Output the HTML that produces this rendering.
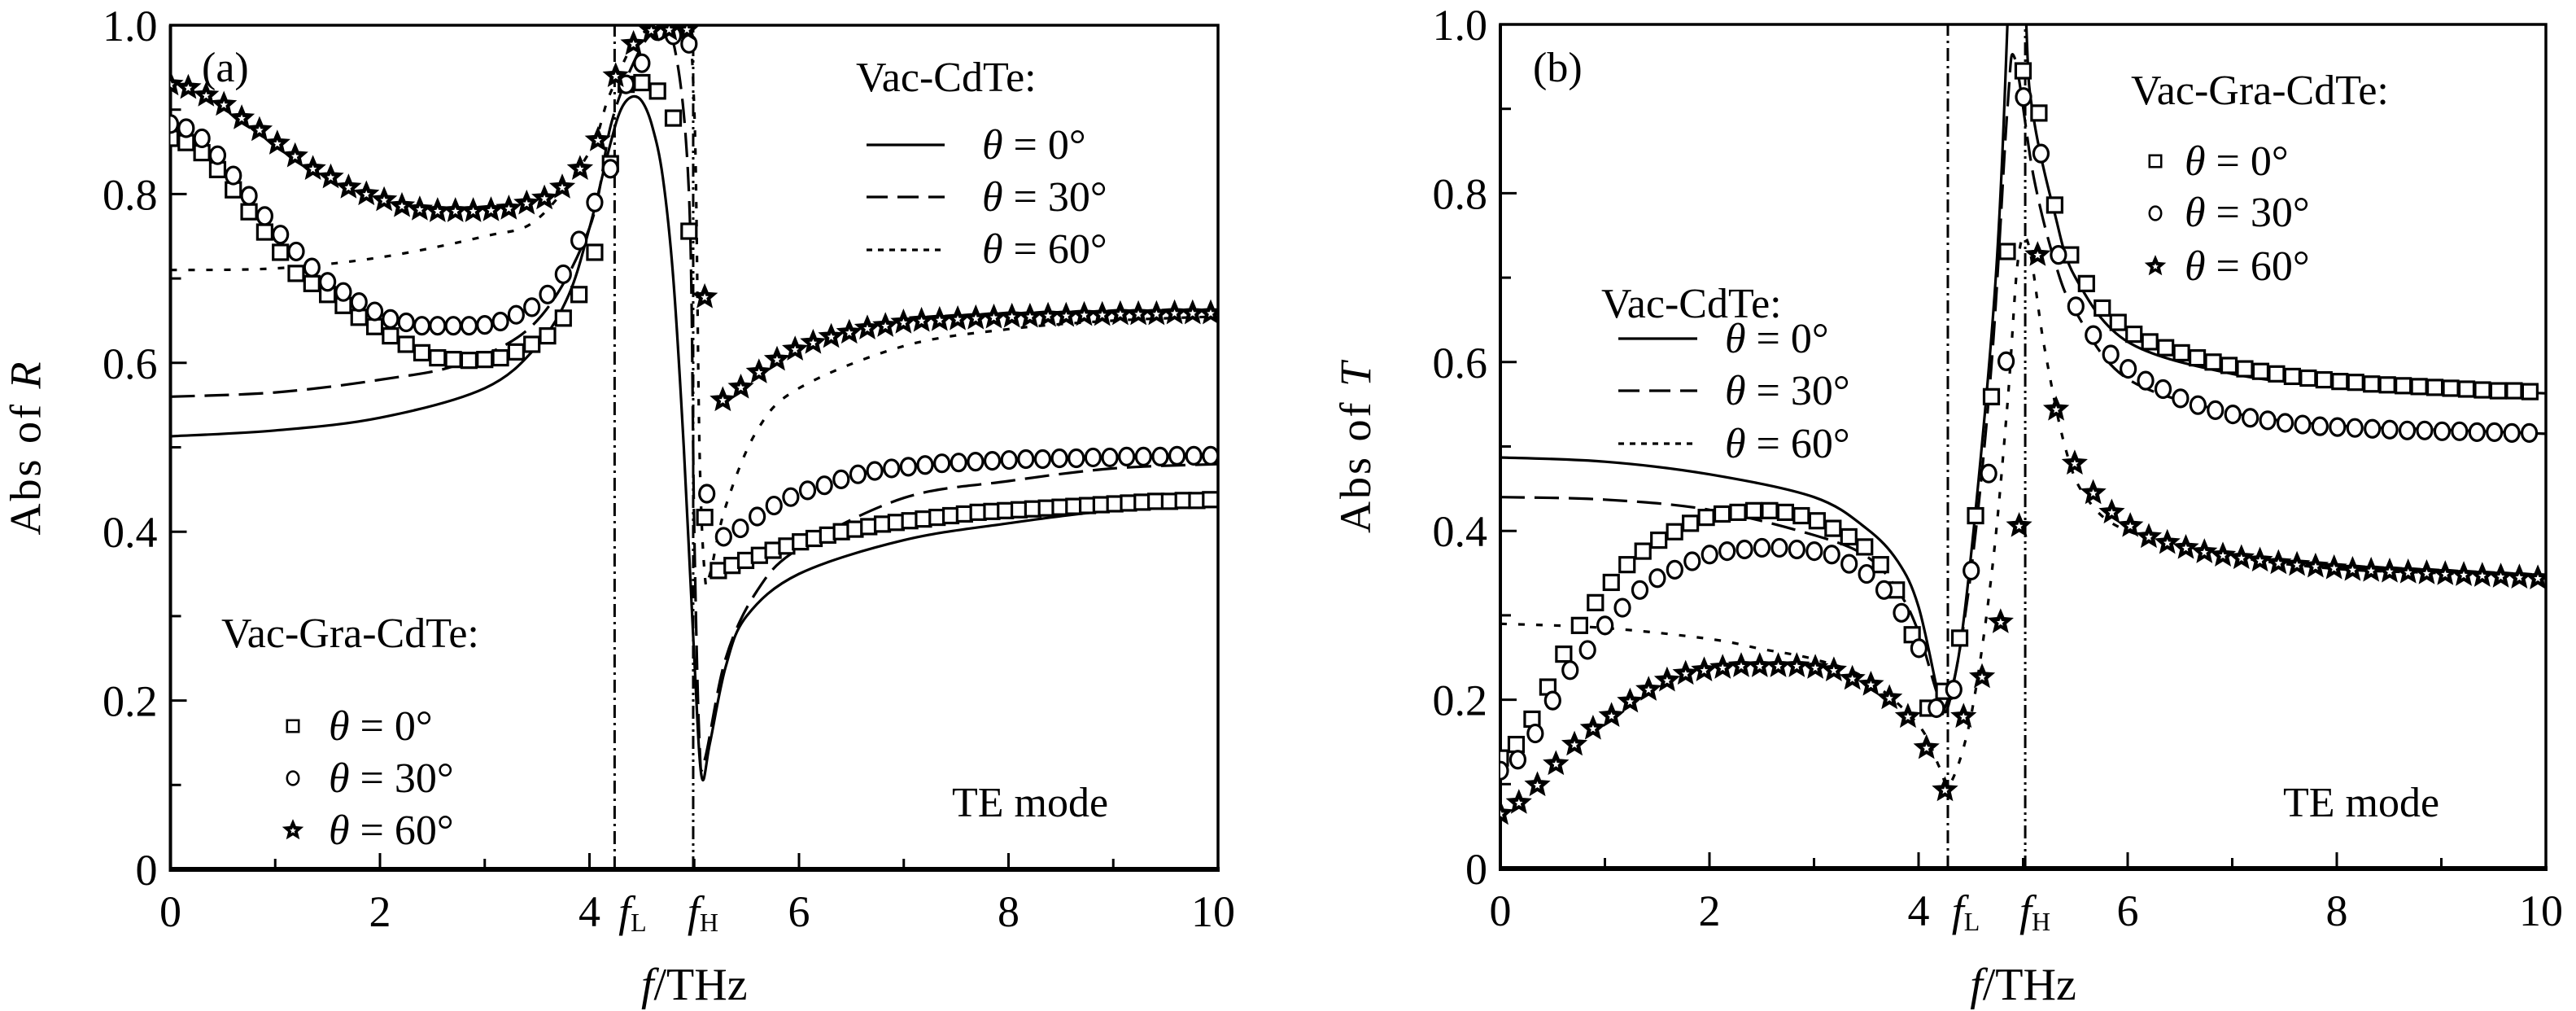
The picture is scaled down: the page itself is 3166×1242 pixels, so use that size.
<!DOCTYPE html>
<html><head><meta charset="utf-8"><style>
html,body{margin:0;padding:0;background:#fff;}
svg{display:block;}
svg text{font-family:"Liberation Serif","DejaVu Serif",serif;}
</style></head><body>
<svg id="fig" width="3166" height="1242" viewBox="0 0 3166 1242" xmlns="http://www.w3.org/2000/svg" font-family="Liberation Serif, DejaVu Serif, serif">
<rect width="3166" height="1242" fill="#fff"/>
</svg>
<script>
// ---------- Panel (a) data: reflectance R ----------
const aSolidF=[0,1,2,3,3.5,3.8,4.0,4.2,4.3,4.4,4.5,4.6,4.7,4.8,4.9,5.0,5.07,5.15,5.3,5.5,6,7,8,9,10];
const aSolidV=[0.513,0.52,0.535,0.57,0.62,0.68,0.76,0.86,0.90,0.915,0.91,0.88,0.82,0.70,0.50,0.25,0.11,0.15,0.24,0.30,0.35,0.39,0.41,0.425,0.43];
const aDashF=[0,1,2,2.8,3.5,4.0,4.2,4.4,4.6,4.8,4.95,5.0,5.05,5.1,5.3,5.6,6,7,8,9,10];
const aDashV=[0.56,0.565,0.58,0.60,0.65,0.76,0.88,0.95,0.99,0.98,0.80,0.40,0.15,0.13,0.25,0.33,0.38,0.44,0.46,0.475,0.48];
const aDotF=[0,1,2,3,3.5,4.0,4.2,4.5,4.9,5.0,5.05,5.1,5.15,5.3,5.6,6,7,8,9,10];
const aDotV=[0.71,0.712,0.725,0.75,0.77,0.85,0.92,0.99,0.99,0.90,0.50,0.35,0.35,0.43,0.52,0.57,0.62,0.64,0.65,0.655];
const aSqL=[0.866,0.861,0.849,0.829,0.805,0.779,0.755,0.731,0.706,0.694,0.681,0.668,0.654,0.643,0.632,0.622,0.612,0.606,0.604,0.603,0.604,0.606,0.613,0.622,0.632,0.653,0.681,0.731,0.836,0.93,0.932,0.922,0.89,0.756];
const aSqR=[0.417,0.354,0.36,0.366,0.372,0.378,0.383,0.388,0.392,0.396,0.400,0.403,0.406,0.409,0.411,0.413,0.415,0.417,0.419,0.421,0.423,0.424,0.425,0.426,0.427,0.428,0.429,0.430,0.431,0.432,0.433,0.434,0.435,0.436,0.436,0.437,0.437,0.438];
const aCiL=[0.883,0.878,0.866,0.846,0.822,0.798,0.774,0.752,0.732,0.713,0.696,0.684,0.672,0.661,0.652,0.648,0.644,0.644,0.644,0.644,0.645,0.649,0.657,0.666,0.681,0.705,0.745,0.79,0.83,0.93,0.955,0.993,0.988,0.978];
const aCiR=[0.445,0.394,0.404,0.418,0.431,0.441,0.449,0.455,0.462,0.468,0.472,0.475,0.477,0.479,0.481,0.482,0.483,0.484,0.485,0.486,0.486,0.487,0.487,0.488,0.488,0.489,0.489,0.489,0.49,0.49,0.49];
const aStL=[0.93,0.926,0.917,0.906,0.89,0.876,0.86,0.845,0.83,0.82,0.808,0.80,0.793,0.786,0.782,0.78,0.78,0.78,0.781,0.783,0.789,0.795,0.808,0.83,0.864,0.94,0.978,0.994,0.995,0.995];
const aStR=[0.678,0.556,0.571,0.589,0.604,0.616,0.624,0.631,0.636,0.641,0.644,0.648,0.650,0.651,0.652,0.653,0.654,0.655,0.655,0.656,0.656,0.657,0.657,0.658,0.658,0.658,0.659,0.659,0.659];
// ---------- Panel (b) data: transmittance T ----------
const bSolidF=[0,1,2,3,3.5,3.8,4.0,4.2,4.25,4.4,4.6,4.75,4.85,4.95,5.03,5.1,5.3,5.5,6,7,8,9,10];
const bSolidV=[0.487,0.482,0.467,0.44,0.403,0.364,0.31,0.2,0.19,0.265,0.494,0.723,1.0,1.4,1.0,0.89,0.777,0.70,0.624,0.586,0.572,0.567,0.563];
const bDashF=[0,1,2,3,3.5,3.8,4.0,4.2,4.3,4.5,4.7,4.85,4.92,5.1,5.3,5.5,6,7,8,9,10];
const bDashV=[0.44,0.437,0.425,0.395,0.37,0.33,0.28,0.2,0.2,0.35,0.6,0.9,0.96,0.82,0.72,0.66,0.58,0.54,0.525,0.52,0.515];
const bDotF=[0,1,2,2.5,3,3.5,4.0,4.2,4.3,4.5,4.7,4.85,4.95,5.05,5.2,5.4,5.6,6,7,8,9,10];
const bDotV=[0.29,0.285,0.272,0.26,0.248,0.225,0.17,0.12,0.10,0.18,0.35,0.55,0.72,0.74,0.62,0.50,0.44,0.40,0.37,0.355,0.35,0.345];
const bSq=[0.131,0.147,0.177,0.215,0.254,0.288,0.315,0.339,0.36,0.376,0.389,0.399,0.409,0.416,0.42,0.422,0.424,0.424,0.422,0.418,0.412,0.403,0.393,0.381,0.36,0.33,0.277,0.19,0.21,0.273,0.418,0.559,0.731,0.945,0.895,0.786,0.727,0.693,0.664,0.647,0.633,0.624,0.617,0.611,0.605,0.600,0.596,0.592,0.589,0.586,0.583,0.581,0.579,0.577,0.576,0.574,0.573,0.572,0.571,0.570,0.569,0.568,0.567,0.566,0.566,0.565];
const bCi=[0.116,0.129,0.16,0.199,0.235,0.259,0.288,0.309,0.33,0.344,0.354,0.364,0.372,0.376,0.378,0.38,0.38,0.378,0.376,0.372,0.361,0.349,0.33,0.303,0.261,0.19,0.212,0.353,0.468,0.601,0.914,0.847,0.727,0.666,0.632,0.609,0.592,0.578,0.568,0.557,0.549,0.543,0.538,0.534,0.531,0.528,0.526,0.524,0.523,0.522,0.521,0.520,0.519,0.519,0.518,0.518,0.517,0.517,0.516,0.516];
const bSt=[0.065,0.078,0.099,0.124,0.147,0.166,0.181,0.198,0.212,0.223,0.231,0.235,0.238,0.24,0.24,0.24,0.24,0.238,0.235,0.225,0.218,0.202,0.18,0.143,0.093,0.18,0.227,0.292,0.406,0.727,0.544,0.48,0.445,0.422,0.406,0.393,0.386,0.38,0.375,0.371,0.368,0.365,0.362,0.36,0.358,0.356,0.354,0.353,0.352,0.351,0.35,0.349,0.348,0.347,0.346,0.345,0.344];
const xTicks=[0,2,4,6,8,10];
const yTicks=[0,0.2,0.4,0.6,0.8,1.0];
const yTickLabels=["0","0.2","0.4","0.6","0.8","1.0"];

const NS="http://www.w3.org/2000/svg";
const FONT='"Liberation Serif","DejaVu Serif",serif';
const svg=document.getElementById('fig');
function mk(tag,attrs,parent){const e=document.createElementNS(NS,tag);for(const k in attrs)e.setAttribute(k,attrs[k]);if(tag==='text')e.style.fontFamily=FONT;(parent||svg).appendChild(e);return e;}
function grid(start,step,n){const a=[];for(let i=0;i<n;i++)a.push(start+step*i);return a;}
function smoothPath(pts){let d='M'+pts[0][0].toFixed(1)+','+pts[0][1].toFixed(1);
 for(let i=0;i<pts.length-1;i++){const p0=pts[Math.max(0,i-1)],p1=pts[i],p2=pts[i+1],p3=pts[Math.min(pts.length-1,i+2)];
  const c1=[p1[0]+(p2[0]-p0[0])/6,p1[1]+(p2[1]-p0[1])/6],c2=[p2[0]-(p3[0]-p1[0])/6,p2[1]-(p3[1]-p1[1])/6];
  d+=' C'+c1.map(v=>v.toFixed(1))+' '+c2.map(v=>v.toFixed(1))+' '+p2[0].toFixed(1)+','+p2[1].toFixed(1);}
 return d;}
function starPts(cx,cy,R){const r=R*0.45;let s='';for(let k=0;k<10;k++){const rr=k%2?r:R;const a=-Math.PI/2+k*Math.PI/5;s+=(cx+rr*Math.cos(a)).toFixed(1)+','+(cy+rr*Math.sin(a)).toFixed(1)+' ';}return s;}
function marker(g,type,x,y,name,sc){sc=sc||1;let e;
 if(type==='sq'){e=mk('rect',{x:x-9*sc,y:y-9*sc,width:18*sc,height:18*sc,fill:'#fff',stroke:'#000','stroke-width':3.2*sc},g);}
 else if(type==='ci'){e=mk('ellipse',{cx:x,cy:y,rx:9*sc,ry:10.5*sc,fill:'#fff',stroke:'#000','stroke-width':3.2*sc},g);}
 else {e=mk('g',{},g);mk('polygon',{points:starPts(x,y,15*sc),fill:'#000',stroke:'#000','stroke-width':1.5},e);mk('polygon',{points:starPts(x,y+0.5,5*sc),fill:'#fff'},e);}
 
 
 return e;}

function panel(P){
 const X=f=>P.x0+(P.x1-P.x0)*f/10, Y=v=>P.y0-(P.y0-P.y1)*v;
 const g=mk('g',{});
 
 
 const cid='clip-'+P.id;
 const cp=mk('clipPath',{id:cid},g);mk('rect',{x:P.x0,y:P.y1,width:P.x1-P.x0,height:P.y0-P.y1},cp);
 const fr=mk('rect',{x:P.x0,y:P.y1,width:P.x1-P.x0,height:P.y0-P.y1,fill:'none',stroke:'#000','stroke-width':3.5},g);
 
 
 mk('line',{x1:P.x0-2,y1:P.y0,x2:P.x1+2,y2:P.y0,stroke:'#000','stroke-width':6},g);
 mk('line',{x1:P.x0,y1:P.y0,x2:P.x0,y2:P.y1,stroke:'#000','stroke-width':4},g);
 for(let f=0;f<=10;f++){const maj=f%2===0;mk('line',{x1:X(f),y1:P.y0,x2:X(f),y2:P.y0-(maj?20:13),stroke:'#000','stroke-width':3},g);}
 for(let k=0;k<=10;k++){const maj=k%2===0;mk('line',{x1:P.x0,y1:Y(k/10),x2:P.x0+(maj?20:13),y2:Y(k/10),stroke:'#000','stroke-width':3},g);}
 xTicks.forEach(t=>{const e=mk('text',{x:X(t)+(t===10?-6:0),y:P.y0+70,'font-size':54,'text-anchor':'middle'},g);e.textContent=String(t);
  
  });
 yTicks.forEach((t,i)=>{const e=mk('text',{x:P.x0-16,y:Y(t)+19,'font-size':54,'text-anchor':'end'},g);e.textContent=yTickLabels[i];
  
  });
 [[P.fL,'L'],[P.fH,'H']].forEach(([f,s])=>{const e=mk('text',{x:X(f)+(s==='L'?22:12),y:P.y0+70,'font-size':54,'text-anchor':'middle'},g);
  e.innerHTML='<tspan font-style="italic">f</tspan><tspan font-size="32" dy="6">'+s+'</tspan>';
  
  });
 const xt=mk('text',{x:(P.x0+P.x1)/2,y:1228,'font-size':56,'text-anchor':'middle'},g);
 xt.innerHTML='<tspan font-style="italic">f</tspan>/THz';
 
 
 const yt=mk('text',{x:0,y:0,'font-size':54,'text-anchor':'middle','letter-spacing':'3',transform:'translate('+(P.x0-160)+','+((P.y0+P.y1)/2)+') rotate(-90)'},g);
 yt.innerHTML='Abs of <tspan font-style="italic">'+P.q+'</tspan>';
 
 
 const vl1=mk('line',{x1:X(P.fL),y1:P.y0,x2:X(P.fL),y2:P.y1,stroke:'#000','stroke-width':3,'stroke-dasharray':'16 6 3 6'},g);
 
 
 const vl2=mk('line',{x1:X(P.fH),y1:P.y0,x2:X(P.fH),y2:P.y1,stroke:'#000','stroke-width':3,'stroke-dasharray':'16 5 3 5 3 5'},g);
 
 
 const cg=mk('g',{'clip-path':'url(#'+cid+')'},g);
 P.curves.forEach(c=>{const pts=c.f.map((f,i)=>[X(f),Y(c.v[i])]);
  const e=mk('path',{d:smoothPath(pts),fill:'none',stroke:'#000','stroke-width':3.2,'stroke-dasharray':c.dash},cg);
  
  });
 P.marks.forEach(m=>{m.f.forEach((f,i)=>{marker(cg,m.type,X(f),Y(m.v[i]),m.name);});});
 P.texts.forEach(t=>{const e=mk('text',{x:t.x,y:t.y,'font-size':t.s||52},g);e.innerHTML=t.h;
  
  });
 P.legLines.forEach(l=>{const e=mk('line',{x1:l.x1,y1:l.y,x2:l.x2,y2:l.y,stroke:'#000','stroke-width':3.2,'stroke-dasharray':l.dash},g);
  
  });
 P.legMarks.forEach(l=>{marker(g,l.type,l.x,l.y,l.name,0.8);});
}
const th=v=>'<tspan font-style="italic">θ</tspan> = '+v+'°';
panel({id:'a',x0:209.5,x1:1497,y0:1068,y1:31,fL:4.24,fH:4.99,q:'R',
 curves:[{f:aSolidF,v:aSolidV,dash:'none',name:'vac-cdte-0deg-curve'},{f:aDashF,v:aDashV,dash:'30 12',name:'vac-cdte-30deg-curve'},{f:aDotF,v:aDotV,dash:'8 14',name:'vac-cdte-60deg-curve'}],
 marks:[{type:'sq',f:grid(0,0.15,aSqL.length),v:aSqL,name:'gra-0deg-marker'},{type:'sq',f:grid(5.10,0.1305,aSqR.length),v:aSqR,name:'gra-0deg-marker'},
  {type:'ci',f:grid(0,0.15,aCiL.length),v:aCiL,name:'gra-30deg-marker'},{type:'ci',f:grid(5.12,0.1603,aCiR.length),v:aCiR,name:'gra-30deg-marker'},
  {type:'st',f:grid(0,0.17,aStL.length),v:aStL,name:'gra-60deg-marker'},{type:'st',f:grid(5.10,0.1725,aStR.length),v:aStR,name:'gra-60deg-marker'}],
 texts:[{x:248,y:100,h:'(a)',name:'panel-a-label'},{x:1052,y:112,h:'Vac-CdTe:',name:'legend-title-vac-cdte'},
  {x:1207,y:195,h:th(0),name:'legend-label-0deg'},{x:1207,y:259,h:th(30),name:'legend-label-30deg'},{x:1207,y:323,h:th(60),name:'legend-label-60deg'},
  {x:272,y:795,h:'Vac-Gra-CdTe:',name:'legend-title-vac-gra-cdte'},
  {x:404,y:909,h:th(0),name:'legend-label-0deg'},{x:404,y:973,h:th(30),name:'legend-label-30deg'},{x:404,y:1037,h:th(60),name:'legend-label-60deg'},
  {x:1170,y:1003,h:'TE mode',name:'mode-label'}],
 legLines:[{x1:1065,x2:1161,y:178,dash:'none',name:'legend-line-0deg'},{x1:1065,x2:1161,y:242,dash:'26 12',name:'legend-line-30deg'},{x1:1065,x2:1161,y:307,dash:'7 7',name:'legend-line-60deg'}],
 legMarks:[{type:'sq',x:360,y:892,name:'legend-marker-0deg'},{type:'ci',x:360,y:956,name:'legend-marker-30deg'},{type:'st',x:360,y:1020,name:'legend-marker-60deg'}]
});
panel({id:'b',x0:1844,x1:3129,y0:1067,y1:30,fL:4.28,fH:5.02,q:'T',
 curves:[{f:bSolidF,v:bSolidV,dash:'none',name:'vac-cdte-0deg-curve'},{f:bDashF,v:bDashV,dash:'30 12',name:'vac-cdte-30deg-curve'},{f:bDotF,v:bDotV,dash:'8 14',name:'vac-cdte-60deg-curve'}],
 marks:[{type:'sq',f:grid(0,0.1515,bSq.length),v:bSq,name:'gra-0deg-marker'},{type:'ci',f:grid(0,0.1668,bCi.length),v:bCi,name:'gra-30deg-marker'},{type:'st',f:grid(0,0.1772,bSt.length),v:bSt,name:'gra-60deg-marker'}],
 texts:[{x:1884,y:100,h:'(b)',name:'panel-b-label'},{x:1968,y:390,h:'Vac-CdTe:',name:'legend-title-vac-cdte'},
  {x:2120,y:433,h:th(0),name:'legend-label-0deg'},{x:2120,y:497,h:th(30),name:'legend-label-30deg'},{x:2120,y:562,h:th(60),name:'legend-label-60deg'},
  {x:2619,y:128,h:'Vac-Gra-CdTe:',name:'legend-title-vac-gra-cdte'},
  {x:2685,y:215,h:th(0),name:'legend-label-0deg'},{x:2685,y:278,h:th(30),name:'legend-label-30deg'},{x:2685,y:344,h:th(60),name:'legend-label-60deg'},
  {x:2806,y:1003,h:'TE mode',name:'mode-label'}],
 legLines:[{x1:1989,x2:2086,y:416,dash:'none',name:'legend-line-0deg'},{x1:1989,x2:2086,y:480,dash:'26 12',name:'legend-line-30deg'},{x1:1989,x2:2086,y:545,dash:'7 7',name:'legend-line-60deg'}],
 legMarks:[{type:'sq',x:2649,y:198,name:'legend-marker-0deg'},{type:'ci',x:2649,y:262,name:'legend-marker-30deg'},{type:'st',x:2649,y:327,name:'legend-marker-60deg'}]
});
</script>
</body></html>
